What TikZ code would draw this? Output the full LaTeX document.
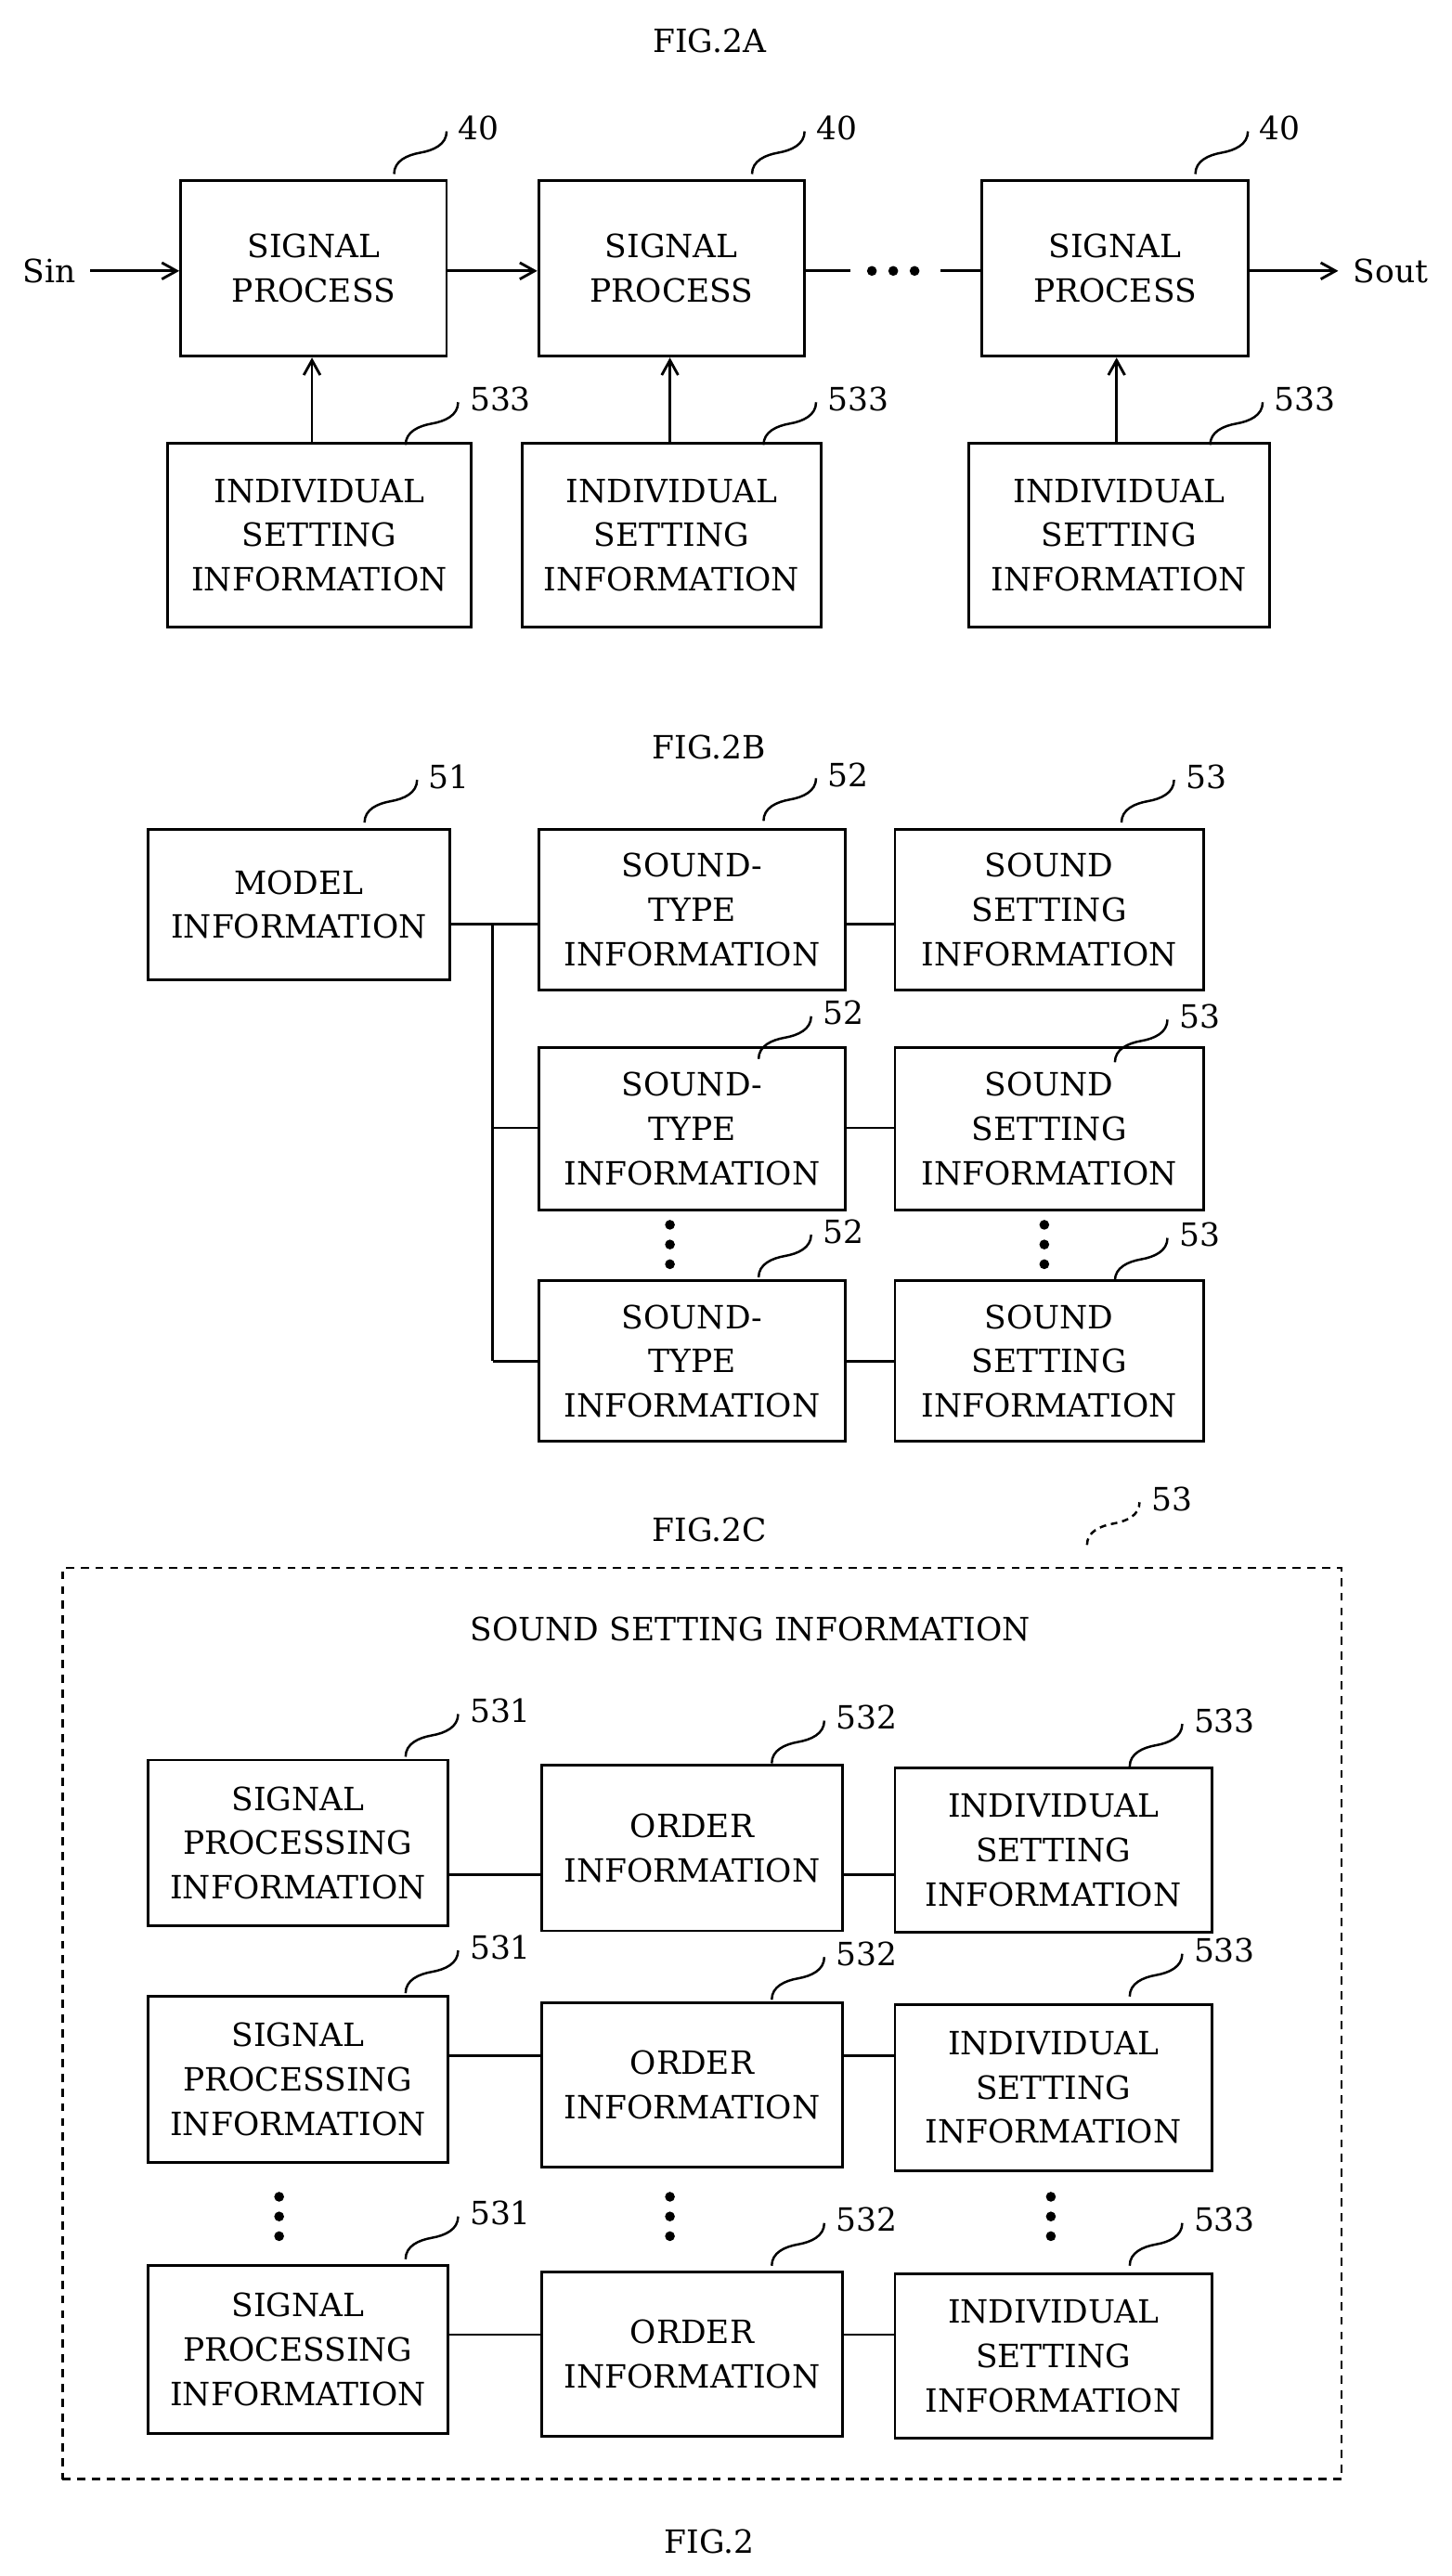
\documentclass[tikz,border=0pt]{standalone}
\usepackage{fontspec}
\setmainfont{DejaVu Serif}
\usetikzlibrary{arrows.meta,calc}
\begin{document}
\begin{tikzpicture}[x=1pt,y=-1pt,line width=1.6pt,
  box/.style={draw,rectangle,inner sep=0pt,align=center,font=\fontsize{19.5}{27}\selectfont},
  txt/.style={font=\fontsize{19.5}{27}\selectfont},
  arr/.style={-{Straight Barb[length=9pt,width=10pt]}},
  dot/.style={circle,fill,inner sep=0pt,minimum size=6pt}]
\useasboundingbox (0,0) rectangle (884,1569);
\newcommand{\bx}[6]{\node[box,minimum width={(#4-#2)*1pt},minimum height={(#5-#3)*1pt}] (#1) at ({(#2+#4)/2},{(#3+#5)/2}) {#6};}
\newcommand{\ld}[4][]{\coordinate (s) at ({#3-50},{#4+28}); \coordinate (e) at ({#3-18},{#4+2});
  \draw[line width=1.4pt,#1] (s) to[out=90,in=190] ($(s)!0.5!(e)$) to[out=10,in=270] (e);
  \node[txt,anchor=west] at ({#3-15},{#4}) {#2};}
\newcommand{\vd}[2]{\node[dot] at (#1,{#2-12}) {};\node[dot] at (#1,#2) {};\node[dot] at (#1,{#2+12}) {};}
% FIG 2A
\node[txt] (t1) at (432,25) {FIG.2A};
\bx{sp1}{110}{110}{272}{217}{SIGNAL\\PROCESS}
\bx{sp2}{328}{110}{490}{217}{SIGNAL\\PROCESS}
\bx{sp3}{598}{110}{760}{217}{SIGNAL\\PROCESS}
\bx{is1}{102}{270}{287}{382}{INDIVIDUAL\\SETTING\\INFORMATION}
\bx{is2}{318}{270}{500}{382}{INDIVIDUAL\\SETTING\\INFORMATION}
\bx{is3}{590}{270}{773}{382}{INDIVIDUAL\\SETTING\\INFORMATION}
\node[txt] (sin) at (30,165) {Sin};
\node[txt] (sout) at (847,165) {Sout};
\coordinate (sa) at (55,165); \coordinate (sb) at (815,165);
\coordinate (m1) at (518,165); \coordinate (m2) at (573,165);
\draw[arr] (sa) -- (sp1.west |- sa);
\draw[arr] (sp1.east |- sa) -- (sp2.west |- sa);
\draw (sp2.east |- sa) -- (m1);
\draw (m2) -- (sp3.west |- sa);
\node[dot] at (531,165) {};\node[dot] at (544,165) {};\node[dot] at (557,165) {};
\draw[arr] (sp3.east |- sa) -- (sb);
\draw[arr] (is1.north -| 190,0) -- (sp1.south -| 190,0);
\draw[arr] (is2.north -| 408,0) -- (sp2.south -| 408,0);
\draw[arr] (is3.north -| 680,0) -- (sp3.south -| 680,0);
\ld{40}{290}{78}\ld{40}{508}{78}\ld{40}{778}{78}
\ld{533}{297}{243}\ld{533}{515}{243}\ld{533}{787}{243}
% FIG 2B
\node[txt] (t2) at (432,455) {FIG.2B};
\bx{mi}{90}{505}{274}{597}{MODEL\\INFORMATION}
\bx{st1}{328}{505}{515}{603}{SOUND-\\TYPE\\INFORMATION}
\bx{st2}{328}{638}{515}{737}{SOUND-\\TYPE\\INFORMATION}
\bx{st3}{328}{780}{515}{878}{SOUND-\\TYPE\\INFORMATION}
\bx{ss1}{545}{505}{733}{603}{SOUND\\SETTING\\INFORMATION}
\bx{ss2}{545}{638}{733}{737}{SOUND\\SETTING\\INFORMATION}
\bx{ss3}{545}{780}{733}{878}{SOUND\\SETTING\\INFORMATION}
\coordinate (j1) at (300,563); \coordinate (j2) at (300,687); \coordinate (j3) at (300,829);
\draw (mi.east |- j1) -- (st1.west |- j1);
\draw (j1) -- (j3);
\draw (j2) -- (st2.west |- j2);
\draw (j3) -- (st3.west |- j3);
\draw (st1.east |- j1) -- (ss1.west |- j1);
\draw (st2.east |- j2) -- (ss2.west |- j2);
\draw (st3.east |- j3) -- (ss3.west |- j3);
\vd{408}{758}\vd{636}{758}
\ld{51}{272}{473}\ld{52}{515}{472}\ld{52}{512}{617}\ld{52}{512}{750}
\ld{53}{733}{473}\ld{53}{729}{619}\ld{53}{729}{752}
% FIG 2C
\node[txt] (t3) at (432,932) {FIG.2C};
\node[draw,dash pattern=on 5pt off 4pt,minimum width=779pt,minimum height=555pt,inner sep=0pt] (db) at (427.5,1232.5) {};
\ld[dash pattern=on 4pt off 3pt]{53}{712}{913}
\node[txt] (ssh) at (457,992) {SOUND SETTING INFORMATION};
\bx{pi1}{90}{1072}{273}{1173}{SIGNAL\\PROCESSING\\INFORMATION}
\bx{pi2}{90}{1216}{273}{1317}{SIGNAL\\PROCESSING\\INFORMATION}
\bx{pi3}{90}{1380}{273}{1482}{SIGNAL\\PROCESSING\\INFORMATION}
\bx{oi1}{330}{1075}{513}{1176}{ORDER\\INFORMATION}
\bx{oi2}{330}{1220}{513}{1320}{ORDER\\INFORMATION}
\bx{oi3}{330}{1384}{513}{1484}{ORDER\\INFORMATION}
\bx{ii1}{545}{1077}{738}{1177}{INDIVIDUAL\\SETTING\\INFORMATION}
\bx{ii2}{545}{1221}{738}{1322}{INDIVIDUAL\\SETTING\\INFORMATION}
\bx{ii3}{545}{1385}{738}{1485}{INDIVIDUAL\\SETTING\\INFORMATION}
\coordinate (r1) at (0,1142); \coordinate (r2) at (0,1252); \coordinate (r3) at (0,1422);
\draw (pi1.east |- r1) -- (oi1.west |- r1);
\draw (oi1.east |- r1) -- (ii1.west |- r1);
\draw (pi2.east |- r2) -- (oi2.west |- r2);
\draw (oi2.east |- r2) -- (ii2.west |- r2);
\draw (pi3.east |- r3) -- (oi3.west |- r3);
\draw (oi3.east |- r3) -- (ii3.west |- r3);
\vd{170}{1350}\vd{408}{1350}\vd{640}{1350}
\ld{531}{297}{1042}\ld{531}{297}{1186}\ld{531}{297}{1348}
\ld{532}{520}{1046}\ld{532}{520}{1190}\ld{532}{520}{1352}
\ld{533}{738}{1048}\ld{533}{738}{1188}\ld{533}{738}{1352}
\node[txt] (t4) at (432,1548) {FIG.2};
\end{tikzpicture}
\end{document}
